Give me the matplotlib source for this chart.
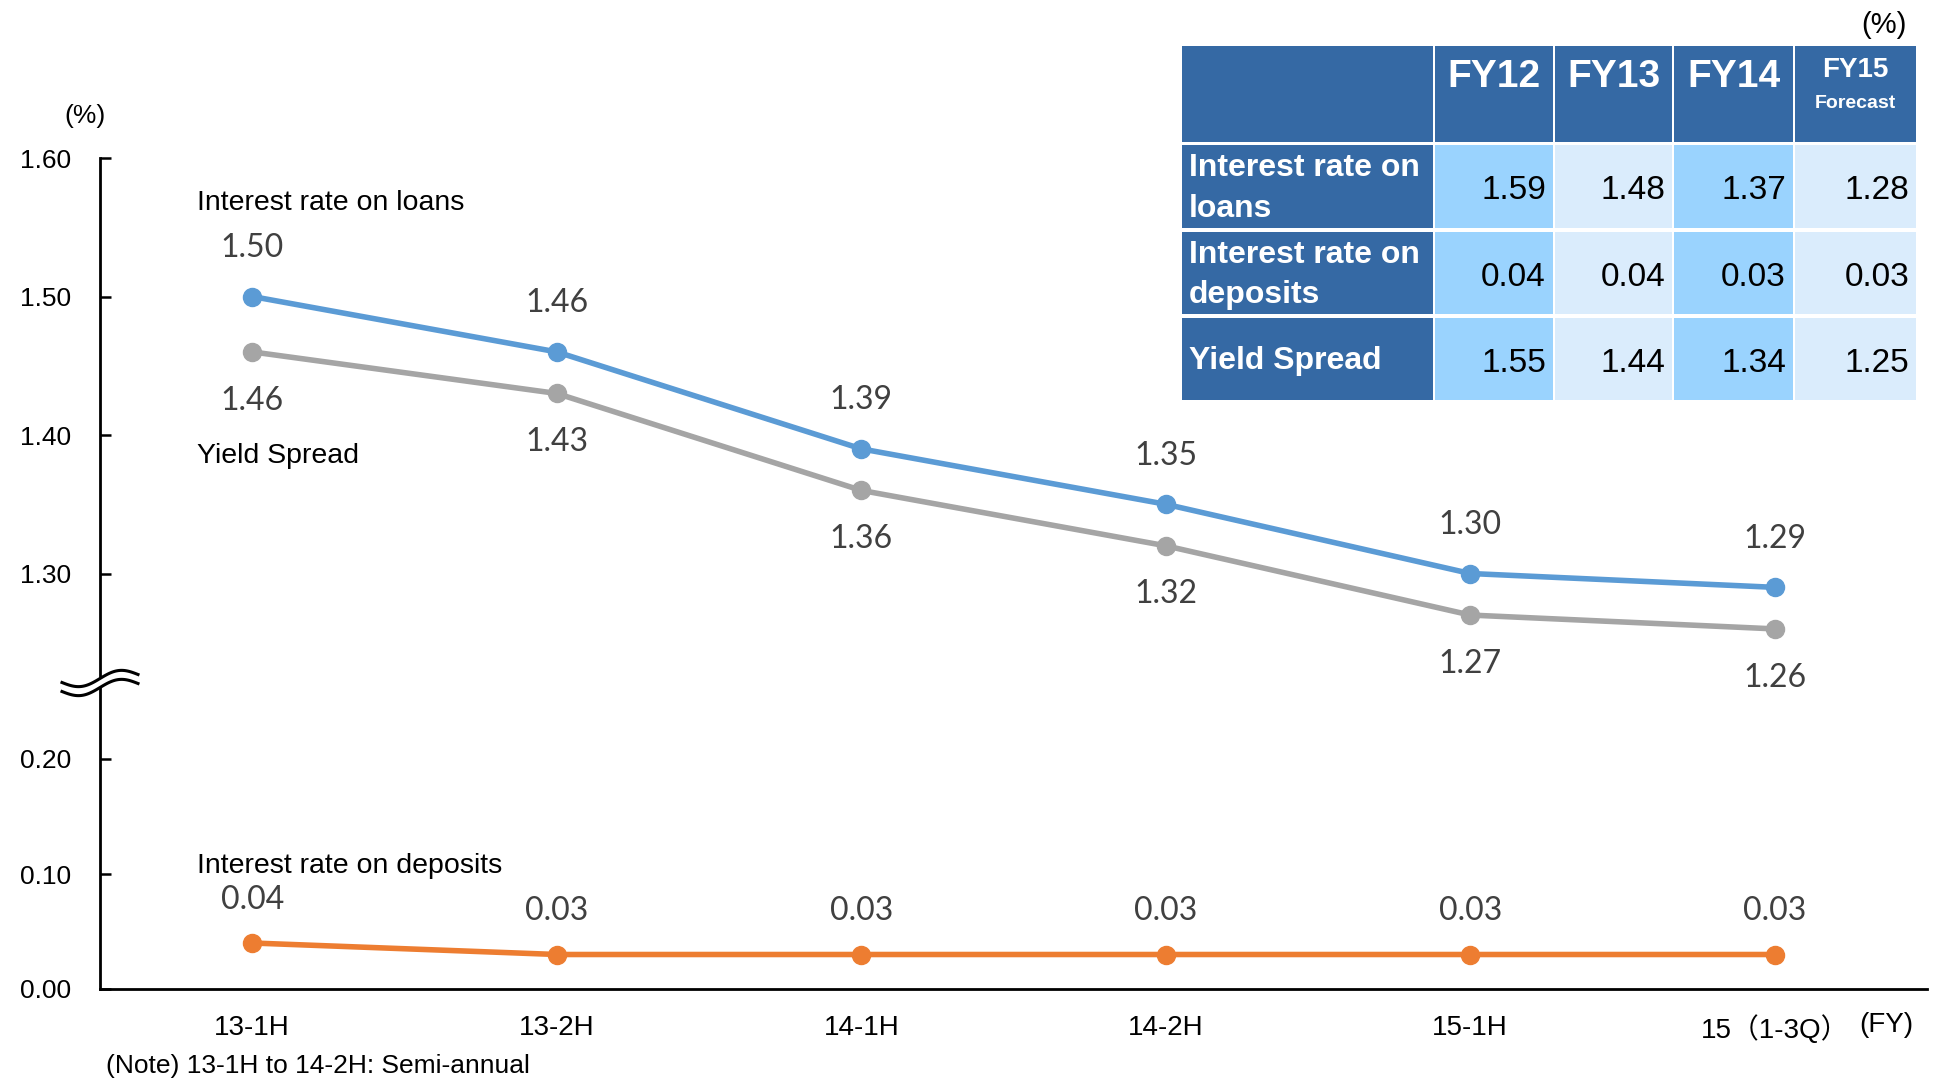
import numpy as np
import matplotlib
matplotlib.use("Agg")
import matplotlib.pyplot as plt
from matplotlib.patches import Rectangle

plt.rcParams['font.family'] = ['Liberation Sans', 'Noto Sans CJK JP', 'DejaVu Sans']

# half-year periods on the x axis
periods = ['13-1H', '13-2H', '14-1H', '14-2H', '15-1H', '15（1-3Q）']
loans = [1.50, 1.46, 1.39, 1.35, 1.30, 1.29]
spread = [1.46, 1.43, 1.36, 1.32, 1.27, 1.26]
deposits = [0.04, 0.03, 0.03, 0.03, 0.03, 0.03]

# fiscal-year summary table
fy_cols = ['FY12', 'FY13', 'FY14', 'FY15']
fy_rows = ['Interest rate on\nloans', 'Interest rate on\ndeposits', 'Yield Spread']
fy_loans = [1.59, 1.48, 1.37, 1.28]
fy_deposits = [0.04, 0.04, 0.03, 0.03]
fy_spread = [1.55, 1.44, 1.34, 1.25]

upper_ticks = [1.30, 1.40, 1.50, 1.60]
lower_ticks = [0.00, 0.10, 0.20]

BLUE = '#5B9BD5'
GREY = '#A5A5A5'
ORANGE = '#ED7D31'
LABEL = '#404040'
HEAD = '#3569A4'
CELL_A = '#9AD3FE'
CELL_B = '#DAECFC'

W, H = 1955, 1081
fig = plt.figure(figsize=(W / 100, H / 100), dpi=100)

def fx(px):
    return px / W

def fy(py):
    return 1 - py / H

# pixels per 1.00 on each panel
scale_hi = 1385
scale_lo = 1150
left, right = fx(100), fx(1927)
base, brk, top = fy(989), fy(683), fy(158)

ax_lo = fig.add_axes([left, base, right - left, brk - base])
ax_hi = fig.add_axes([left, brk, right - left, top - brk])
ax_lo.set_ylim(0, (brk - base) * H / scale_lo)
ax_hi.set_ylim(1.60 - (top - brk) * H / scale_hi, 1.60)

x = np.arange(len(periods))
for ax in (ax_lo, ax_hi):
    ax.set_xlim(-0.5, len(periods) - 0.5)
    ax.patch.set_alpha(0)
    for s in ('top', 'right'):
        ax.spines[s].set_visible(False)
    ax.spines['left'].set_linewidth(2)
    ax.tick_params(axis='y', direction='in', length=8, width=1.8, pad=21,
                   labelsize=19)
ax_hi.spines['bottom'].set_visible(False)
ax_lo.spines['bottom'].set_linewidth(2)
ax_hi.set_xticks([])
ax_lo.set_xticks(x)
ax_lo.set_xticklabels(periods, fontsize=20)
ax_lo.tick_params(axis='x', length=0, pad=19)

ax_hi.set_yticks(upper_ticks)
ax_hi.set_yticklabels([f'{v:.2f}' for v in upper_ticks])
ax_lo.set_yticks(lower_ticks)
ax_lo.set_yticklabels([f'{v:.2f}' for v in lower_ticks])

line_kw = dict(lw=4, marker='o', ms=13, solid_capstyle='round')
ax_hi.plot(x, loans, color=BLUE, **line_kw)
ax_hi.plot(x, spread, color=GREY, **line_kw)
ax_lo.plot(x, deposits, color=ORANGE, **line_kw)

val_kw = dict(textcoords='offset points', ha='center', va='center',
              fontsize=23, color=LABEL, family=['Lato', 'DejaVu Sans'])
for i in x:
    ax_hi.annotate(f'{loans[i]:.2f}', (i, loans[i]), xytext=(0, 35), **val_kw)
    ax_hi.annotate(f'{spread[i]:.2f}', (i, spread[i]), xytext=(0, -35), **val_kw)
    ax_lo.annotate(f'{deposits[i]:.2f}', (i, deposits[i]), xytext=(0, 31), **val_kw)

name_kw = dict(fontsize=20.5, va='center')
ax_hi.text(-0.18, 1.5675, 'Interest rate on loans', **name_kw)
ax_hi.text(-0.18, 1.385, 'Yield Spread', **name_kw)
ax_lo.text(-0.18, 0.107, 'Interest rate on deposits', **name_kw)

fig.text(fx(85), fy(116), '(%)', fontsize=19, ha='center', va='center')
fig.text(fx(1886), fy(1025), '(FY)', fontsize=20, ha='center', va='center')
fig.text(fx(106), fy(1066), '(Note) 13-1H to 14-2H: Semi-annual', fontsize=19,
         ha='left', va='center')

# axis break mark
t = np.linspace(-1, 1, 80)
bx = 100 + 38 * t
by = 683 - 6 * np.sin(np.pi * t) - 4 * t
gap = 9
fig.add_artist(plt.Polygon(np.column_stack([fx(np.r_[bx, bx[::-1]]),
                                            fy(np.r_[by - gap / 2, (by + gap / 2)[::-1]])]),
                           closed=True, color='white', transform=fig.transFigure, zorder=5))
for off in (-gap / 2, gap / 2):
    fig.add_artist(plt.Line2D(fx(bx), fy(by + off), color='black', lw=2.2,
                              transform=fig.transFigure, zorder=6))

# summary table
col_x = [1182, 1435, 1555, 1674, 1795]
col_w = [251, 118, 117, 119, 121]
row_y = [46, 145, 232, 318]
row_h = [96, 83, 82, 82]

def cell(c, r, color):
    fig.add_artist(Rectangle((fx(col_x[c]), fy(row_y[r] + row_h[r])),
                             col_w[c] / W, row_h[r] / H, color=color,
                             transform=fig.transFigure, lw=0))

for r in range(4):
    cell(0, r, HEAD)
for c in range(1, 5):
    cell(c, 0, HEAD)
    for r in range(1, 4):
        cell(c, r, CELL_A if c % 2 == 1 else CELL_B)

for c, name in enumerate(fy_cols, start=1):
    cx = fx(col_x[c] + col_w[c] / 2)
    if name == 'FY15':
        fig.text(cx, fy(70), name, color='white', fontsize=20, weight='bold',
                 ha='center', va='center')
        fig.text(cx, fy(104), 'Forecast', color='white', fontsize=14, weight='bold',
                 ha='center', va='center')
    else:
        fig.text(cx, fy(77), name, color='white', fontsize=28, weight='bold',
                 ha='center', va='center')

for r, (name, vals) in enumerate(zip(fy_rows, [fy_loans, fy_deposits, fy_spread]), start=1):
    cy = fy(row_y[r] + row_h[r] / 2 + 2)
    fig.text(fx(1189), cy, name, color='white', fontsize=23, weight='bold',
             ha='left', va='center', linespacing=1.45)
    for c, v in enumerate(vals, start=1):
        fig.text(fx(col_x[c] + col_w[c] - 7), fy(row_y[r] + row_h[r] / 2 + 4),
                 f'{v:.2f}', fontsize=24, ha='right', va='center')

fig.text(fx(1884), fy(25), '(%)', fontsize=21, ha='center', va='center')

fig.savefig('out.png', dpi=100, facecolor='white')
